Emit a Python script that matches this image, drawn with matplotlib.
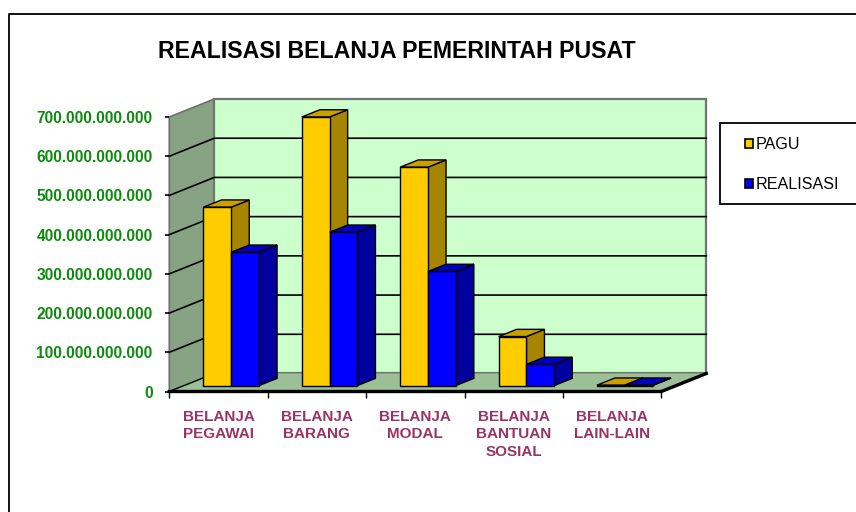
from matplotlib import pyplot as plt
from matplotlib.lines import Line2D
from matplotlib.patches import Patch, Polygon, Rectangle
import numpy as np

categories = ["BELANJA\nPEGAWAI", "BELANJA\nBARANG", "BELANJA\nMODAL",
              "BELANJA\nBANTUAN\nSOSIAL", "BELANJA\nLAIN-LAIN"]
pagu = [455e9, 685e9, 557e9, 125e9, 1e9]
realisasi = [340e9, 391e9, 291e9, 54e9, 1e9]
yticks = [0, 100e9, 200e9, 300e9, 400e9, 500e9, 600e9, 700e9]
ylabels = ["0", "100.000.000.000", "200.000.000.000", "300.000.000.000",
           "400.000.000.000", "500.000.000.000", "600.000.000.000", "700.000.000.000"]

W, H = 856, 512
# shift of the back wall, in category units and value units
DX = 45 / 98.4
DY = 18 / 39.2 * 100e9
BAR_W = 27.8 / 98.4
BAR_START = 19.3 / 98.4
D0, D1 = 0.33, 0.73

fig = plt.figure(figsize=(W / 100, H / 100), dpi=100)
plt.rcParams['font.family'] = ['Liberation Sans', 'DejaVu Sans']
ax = fig.add_axes([169.3 / W, 1 - 391.5 / H, 492 / W, 274.5 / H])
ax.set_xlim(0, 5)
ax.set_ylim(0, 700e9)
ax.patch.set_visible(False)
for s in ax.spines.values():
    s.set_visible(False)


def proj(x, v, d):
    return (x + d * DX, v + d * DY)


def poly(pts, color, edge="black", lw=1.0, z=2):
    ax.add_patch(Polygon(pts, closed=True, facecolor=color, edgecolor=edge,
                         linewidth=lw, zorder=z, clip_on=False, joinstyle="miter"))


# walls and floor
top = yticks[-1]
poly([proj(0, 0, 0), proj(0, 0, 1), proj(0, top, 1), proj(0, top, 0)], "#87A383", "#6E6E6E", 1.2, 1)
poly([proj(0, 0, 1), proj(5, 0, 1), proj(5, top, 1), proj(0, top, 1)], "#CCFFCC", "#6E766E", 1.6, 1)
poly([proj(0, 0, 0), proj(5, 0, 0), proj(5, 0, 1), proj(0, 0, 1)], "#9CBF98", "none", 0, 1)

for v in yticks[1:-1]:
    ax.plot(*zip(proj(0, v, 0), proj(0, v, 1), proj(5, v, 1)), color="black", lw=1.2,
            zorder=1.5, clip_on=False)
ax.plot(*zip(proj(0, 0, 0), proj(0, 0, 1)), color="black", lw=1.0, zorder=1.5, clip_on=False)
ax.plot(*zip(proj(0, 0, 0), proj(5, 0, 0), proj(5, 0, 1)), color="black", lw=2.4,
        zorder=1.6, clip_on=False, solid_joinstyle="miter")


def bar3d(x, v, front, side, roof):
    w = BAR_W
    poly([proj(x + w, 0, D0), proj(x + w, 0, D1), proj(x + w, v, D1), proj(x + w, v, D0)], side)
    poly([proj(x, v, D0), proj(x + w, v, D0), proj(x + w, v, D1), proj(x, v, D1)], roof)
    ax.add_patch(Rectangle(proj(x, 0, D0), w, v, facecolor=front, edgecolor="black",
                           linewidth=1.0, zorder=2, clip_on=False))


for i in range(len(categories)):
    x = i + BAR_START
    bar3d(x, pagu[i], "#FFCC00", "#A68500", "#C9A000")
    bar3d(x + BAR_W, realisasi[i], "#0000FF", "#00009E", "#0000C0")

ax.set_yticks(yticks)
ax.set_yticklabels(ylabels, color="#0C8A0C", fontweight="bold", fontsize=11.2)
ax.tick_params(axis="y", length=3, width=1.2, pad=9)
ax.set_xticks(np.arange(6))
ax.set_xticklabels([])
ax.tick_params(axis="x", which="major", length=4, width=1.0)
ax.set_xticks(np.arange(5) + 0.5, minor=True)
ax.set_xticklabels(categories, minor=True, color="#993366", fontweight="bold", fontsize=11,
                   linespacing=1.33)
ax.tick_params(axis="x", which="minor", length=0, pad=13)

fig.text(397 / W, 1 - 51.5 / H, "REALISASI BELANJA PEMERINTAH PUSAT", ha="center", va="center",
         fontweight="bold", fontsize=16.7, color="black")

# outer border, cut off by the image on the right and at the bottom
fig.add_artist(Line2D([8.5 / W, 8.5 / W, 1], [0, 1 - 13.5 / H, 1 - 13.5 / H], color="black", lw=1.3))

# legend box
fig.add_artist(Rectangle((719.5 / W, 1 - 204 / H), 150 / W, 81 / H, transform=fig.transFigure,
                         facecolor="white", edgecolor="black", linewidth=1.3))
handles = [Patch(facecolor="#FFCC00", edgecolor="black", linewidth=1.2, label="PAGU"),
           Patch(facecolor="#0000FF", edgecolor="black", linewidth=1.2, label="REALISASI")]
fig.legend(handles=handles, loc="upper left", bbox_to_anchor=(730 / W, 1 - 123 / H), frameon=False,
           fontsize=11.6, handlelength=0.5, handleheight=0.5, handletextpad=0.2, labelspacing=1.55)

plt.savefig("out.png", dpi=100)
